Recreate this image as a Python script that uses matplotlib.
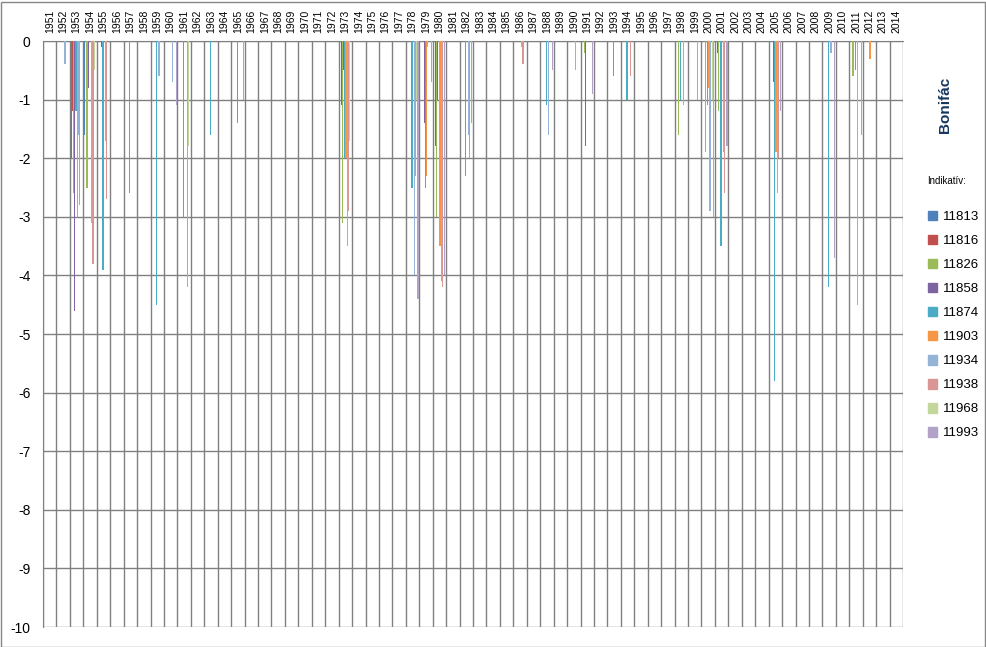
'''Bonifác: negative bar values per station (indikatív) and year.'''

import matplotlib
matplotlib.use('Agg')
import matplotlib.pyplot as plt
import matplotlib.patches as mpatches
import numpy as np

plt.rcParams['font.family'] = ['Liberation Sans', 'DejaVu Sans']

years = list(range(1951, 2015))

# values per station, keyed by year (years without a bar are left out)
s11813 = {1953: -2.0, 1954: -1.6}
s11816 = {1953: -1.2, 1973: -1.1, 1980: -1.8, 2001: -0.2}
s11826 = {1953: -2.6, 1954: -2.5, 1973: -3.1, 1980: -3.0, 1991: -0.2,
          1998: -1.6, 2000: -1.9, 2001: -1.2, 2011: -0.6}
s11858 = {1953: -4.6, 1954: -0.8, 1955: -0.1, 1973: -0.5, 1979: -1.4,
          1980: -1.0, 1991: -1.8, 2005: -0.7}
s11874 = {1953: -1.2, 1955: -3.9, 1957: -2.6, 1959: -4.5, 1961: -3.0,
          1963: -1.6, 1965: -1.4, 1973: -2.0, 1978: -2.5, 1979: -2.5,
          1982: -2.3, 1988: -1.1, 1993: -0.6, 1994: -1.0, 1998: -1.0,
          2000: -1.1, 2001: -3.5, 2005: -5.8, 2009: -4.2, 2011: -0.5}
s11903 = {1953: -3.0, 1973: -2.0, 1979: -2.3, 1980: -3.5, 2000: -0.8,
          2005: -1.9, 2012: -0.3}
s11934 = {1952: -0.4, 1953: -1.6, 1954: -3.1, 1955: -1.7, 1959: -0.6,
          1960: -0.7, 1973: -3.5, 1978: -4.0, 1979: -0.1, 1980: -4.1,
          1982: -1.6, 1986: -0.1, 1988: -1.6, 1990: -0.5, 1998: -1.1,
          2000: -2.9, 2001: -1.9, 2005: -2.6, 2009: -0.2, 2011: -4.5}
s11938 = {1953: -2.8, 1954: -3.8, 1955: -2.7, 1961: -4.2, 1973: -2.9,
          1978: -2.3, 1980: -4.2, 1982: -2.0, 1986: -0.4, 1994: -0.6,
          1999: -1.0, 2001: -2.6, 2005: -2.0}
s11968 = {1954: -0.5, 1961: -1.8, 1973: -1.7, 1978: -1.0, 2000: -1.0}
s11993 = {1960: -1.1, 1965: -1.0, 1978: -4.4, 1979: -0.7, 1980: -4.0,
          1982: -1.4, 1988: -0.5, 1991: -0.9, 2000: -3.0, 2001: -1.8,
          2005: -1.2, 2009: -3.7, 2011: -1.6}

series = [s11813, s11816, s11826, s11858, s11874,
          s11903, s11934, s11938, s11968, s11993]
labels = ['11813', '11816', '11826', '11858', '11874',
          '11903', '11934', '11938', '11968', '11993']
colors = ['#4F81BD', '#C0504D', '#9BBB59', '#8064A2', '#4BACC6',
          '#F79646', '#95B3D7', '#D99694', '#C3D69B', '#B3A2C7']


def main():
    fig = plt.figure(figsize=(9.87, 6.47), dpi=100)
    ax = fig.add_axes([0.0436, 0.0309, 0.8713, 0.9057])

    # Clustered bars, ten per year
    width = 0.09
    for idx, (data, color) in enumerate(zip(series, colors)):
        xs = [years.index(y) + (idx - 4.5) * width for y in data]
        ax.bar(xs, list(data.values()), width=width, color=color,
               linewidth=0, antialiased=False, zorder=3)

    ax.set_xlim(-0.5, len(years) - 0.5)
    ax.set_ylim(-10, 0)

    # Year labels on top, gridlines on category borders
    ax.xaxis.tick_top()
    ax.set_xticks(np.arange(len(years)))
    ax.set_xticklabels([str(y) for y in years], rotation=90, fontsize=7.5)
    ax.set_xticks(np.arange(len(years) + 1) - 0.5, minor=True)
    ax.tick_params(axis='x', which='both', length=0, pad=6)
    ax.set_yticks(np.arange(-10, 1, 1))
    ax.set_yticklabels([str(v) for v in range(-10, 1)], fontsize=10)
    ax.tick_params(axis='y', length=0, pad=9)
    ax.grid(True, axis='x', which='minor', color='#808080', linewidth=1)
    ax.grid(True, axis='y', which='major', color='#808080', linewidth=1)
    ax.set_axisbelow(True)
    for side in ('right', 'bottom'):
        ax.spines[side].set_visible(False)
    for side in ('left', 'top'):
        ax.spines[side].set_color('#808080')

    # Legend on the right
    handles = [mpatches.Patch(color=c, label=l) for c, l in zip(colors, labels)]
    fig.legend(handles=handles, loc='upper left',
               bbox_to_anchor=(921 / 987, 1 - 204 / 647), frameon=False,
               fontsize=9.5, handlelength=0.75, handleheight=0.75,
               handletextpad=0.4, labelspacing=0.88, borderpad=0)
    fig.text(947 / 987, 1 - 181 / 647, 'Indikatív:', fontsize=7,
             ha='center', va='center')
    fig.text(945 / 987, 1 - 105 / 647, 'Bonifác', fontsize=11,
             fontweight='bold', color='#17375E', rotation=90,
             ha='center', va='center')

    # Chart area border
    fig.patches.append(mpatches.Rectangle(
        (0.5 / 987, 0.5 / 647), 985 / 987, 645 / 647,
        transform=fig.transFigure, fill=False, edgecolor='#868686',
        linewidth=1))

    fig.savefig('out.png', dpi=100)


if __name__ == "__main__":
    main()
